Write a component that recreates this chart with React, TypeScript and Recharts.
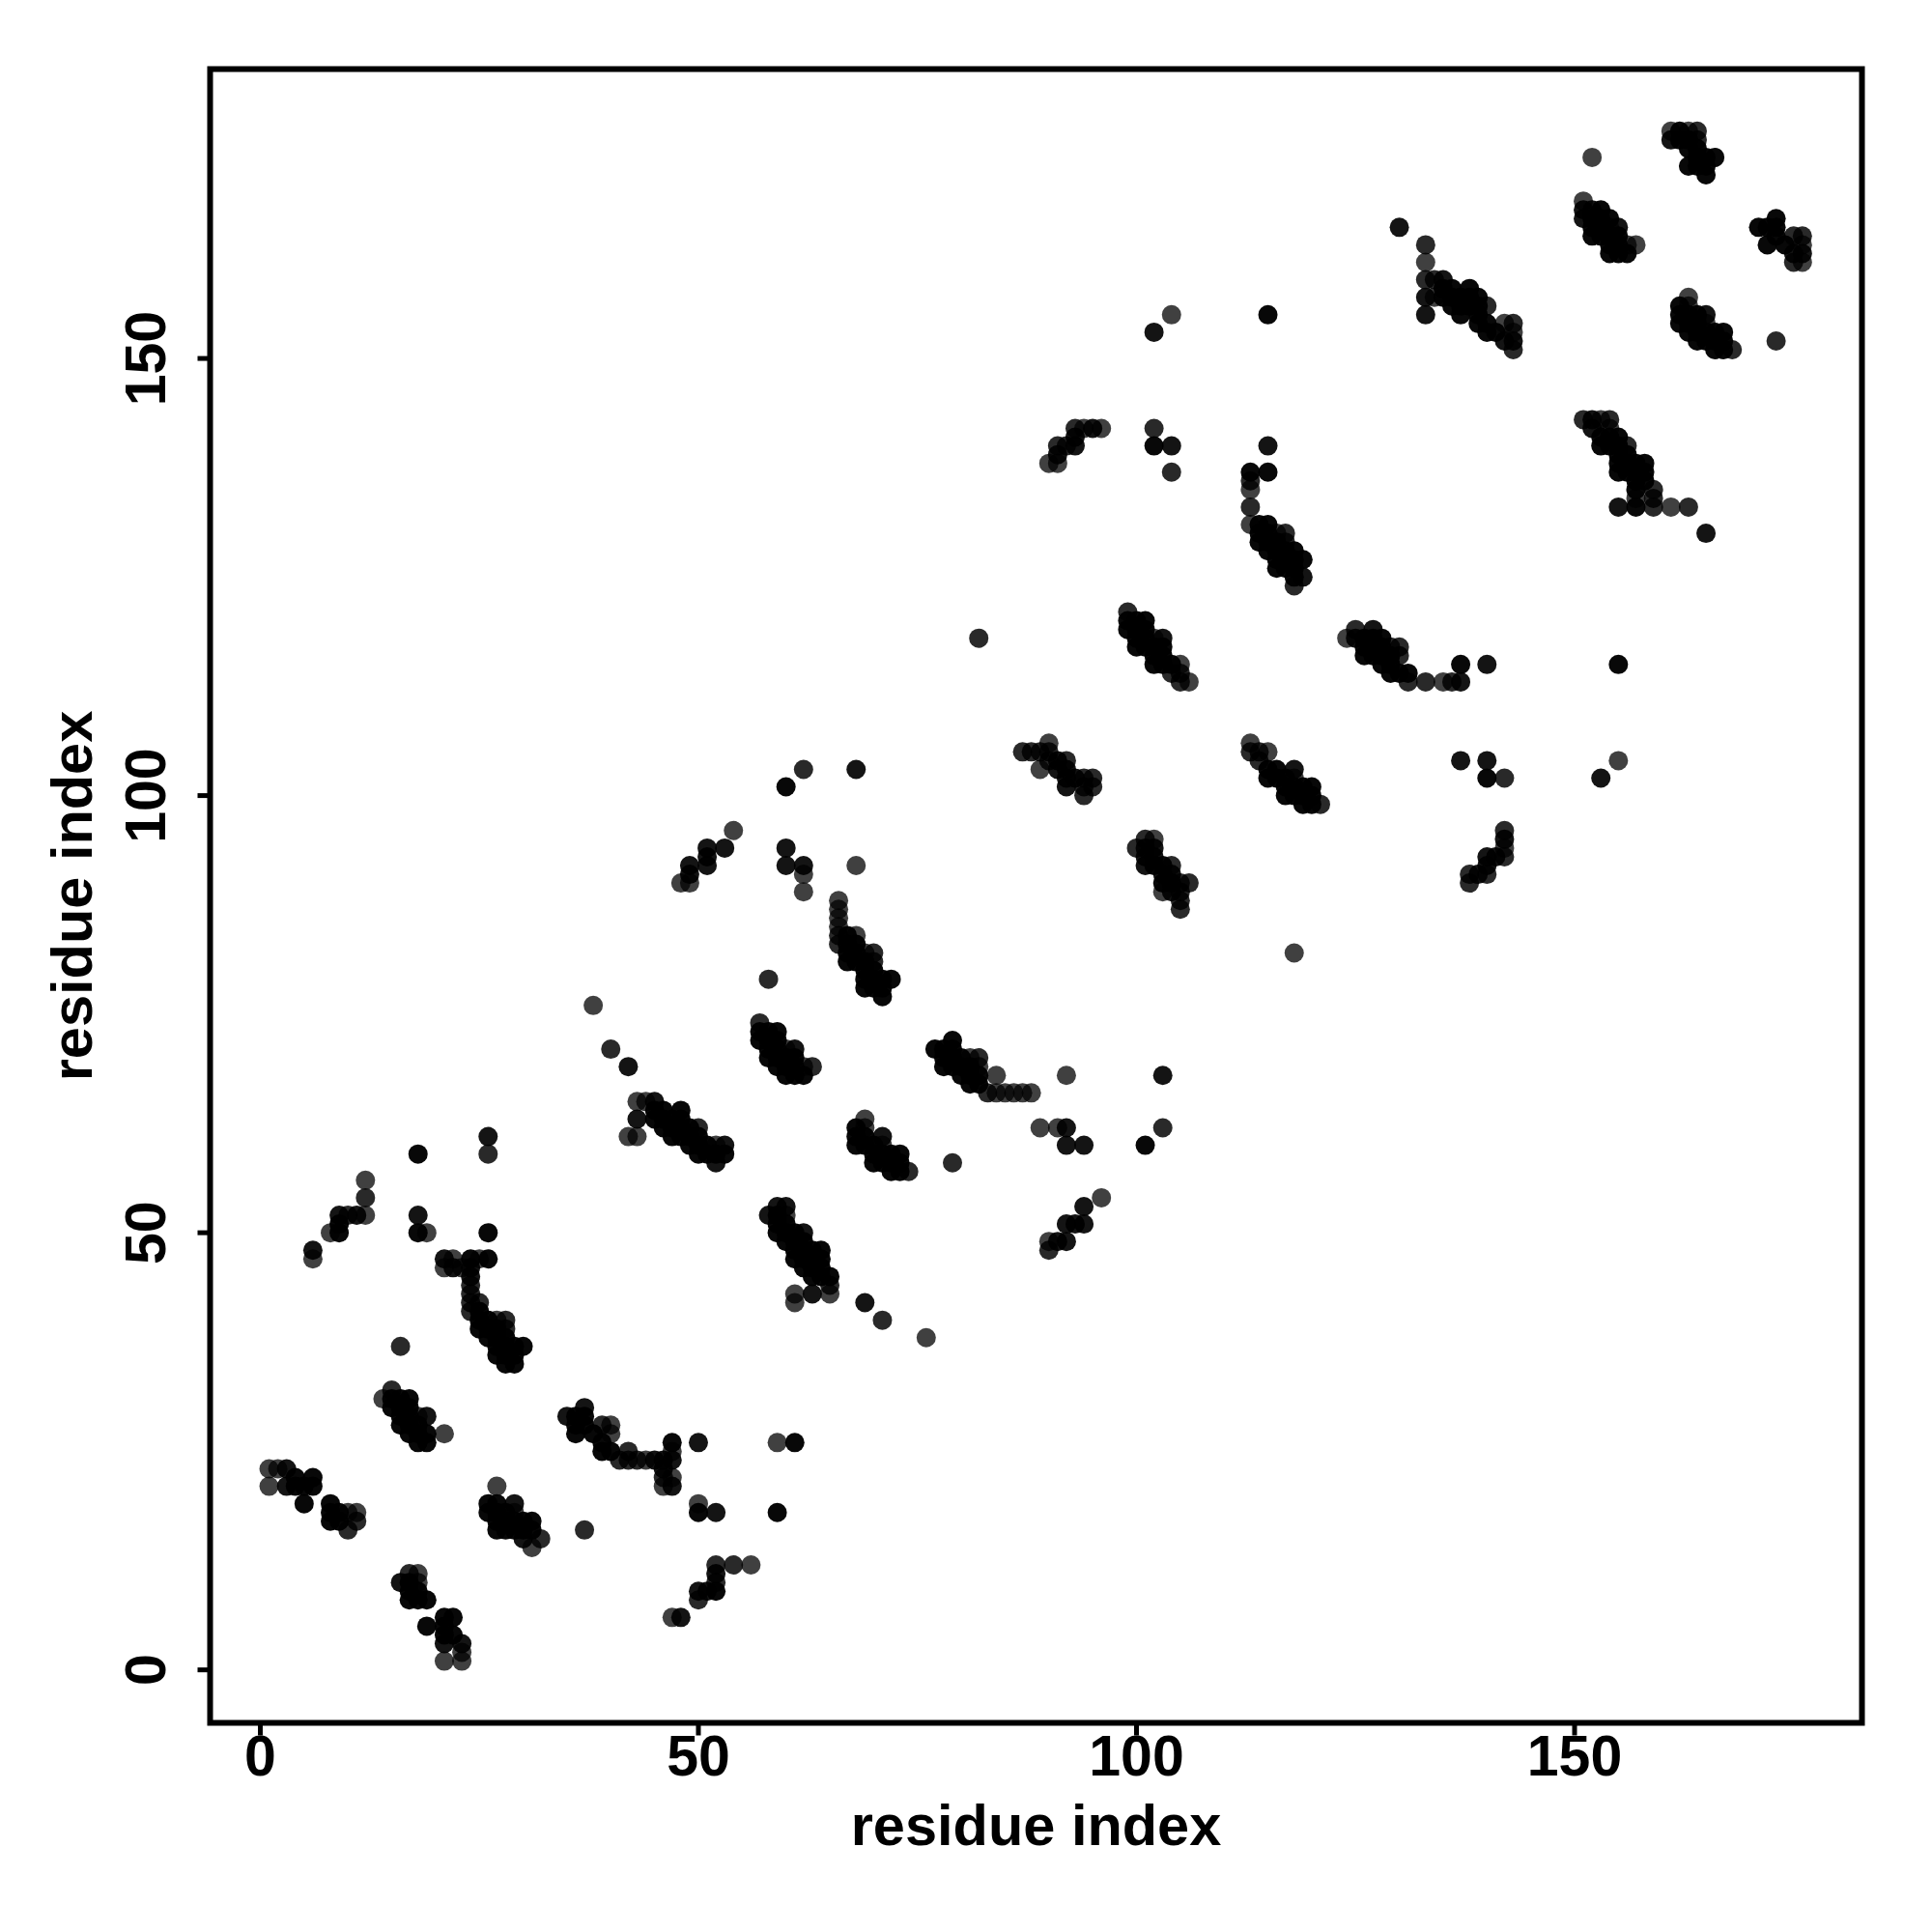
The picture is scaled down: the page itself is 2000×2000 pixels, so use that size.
import { ScatterChart, Scatter, XAxis, YAxis, ReferenceArea } from 'recharts';

// contacts as [residue x, residue y], grouped by how dark the dot is
const faintContacts = [
  [1,23],[1,21],[2,23],[10,18],[11,18],[21,1],[23,1],[23,2],[18,11],[18,10],[14,31],[18,29],[21,27],[27,21],[29,18],[31,14],
  [6,47],[8,50],[12,52],[19,50],[12,56],[21,46],[22,47],[23,46],[25,47],[27,40],[40,28],[40,27],[44,24],[46,21],[47,25],[47,22],
  [59,26],[50,19],[56,12],[47,6],[60,52],[61,43],[61,42],[65,43],[76,38],[38,76],[43,65],[44,65],[42,61],[43,61],[52,60],
  [48,90],[49,90],[54,96],[62,91],[62,89],[68,92],[66,88],[66,87],[66,86],[66,85],[68,84],[69,82],[60,71],[62,69],[69,63],[69,62],[71,60],
  [81,70],[82,69],[84,68],[84,66],[85,66],[86,66],[87,66],[88,66],[92,68],[89,62],[91,62],[96,54],[90,49],[89,103],[90,106],[102,95],[103,89],
  [118,82],[113,106],[115,105],[118,102],[142,94],[155,104],[104,155],[90,138],[91,138],[94,142],[96,142],[113,135],[113,131],[116,130],
  [102,118],[105,115],[106,113],[124,118],[135,113],[133,161],[134,157],[142,154],[143,153],[151,168],[154,165],[156,163],[157,163],[152,173],
  [161,176],[163,176],[176,163],[176,161],[163,157],[163,156],[165,154],[153,143],[154,142],[157,134],[161,133],
];
const midContacts = [
  [11,17],[10,16],[17,11],[15,32],[16,37],[32,15],[37,16],[10,52],[12,54],[26,59],[24,44],[24,43],[24,42],[25,42],[28,40],[28,39],[24,41],
  [39,28],[41,24],[42,25],[42,24],[43,24],[46,22],[52,12],[54,12],[52,10],[50,8],[65,44],[71,40],[40,71],[50,62],[58,79],[62,103],[66,84],[66,83],[70,82],[70,81],
  [57,74],[63,69],[74,57],[79,58],[82,70],[83,66],[103,62],[90,48],[87,105],[88,105],[89,105],[90,105],[90,104],[92,104],[94,100],[94,101],[94,102],[95,102],[95,101],
  [100,94],[101,95],[104,92],[105,90],[106,90],[105,89],[105,88],[105,87],[113,105],[114,105],[114,104],[121,99],[142,102],[142,96],[142,93],[140,91],[138,91],[138,90],
  [82,118],[91,140],[92,140],[93,142],[102,142],[104,137],[113,136],[113,133],[117,130],[117,129],[118,124],[99,121],[105,114],[105,113],[104,114],
  [125,119],[129,117],[130,117],[130,116],[131,113],[133,113],[136,113],[133,163],[133,159],[134,159],[140,156],[143,154],[143,151],
  [164,176],[164,175],[175,164],[176,164],[175,161],[168,151],[173,152],[151,143],[154,143],[156,140],[159,135],[159,134],[159,133],[163,133],
];
const darkContacts = [
  [3,23],[3,21],[23,3],[16,10],[21,3],[19,29],[29,19],[30,15],[6,48],[11,52],[9,52],[18,52],[26,61],[21,47],[22,46],[24,46],[24,45],
  [35,29],[37,30],[45,24],[46,24],[47,24],[46,23],[47,21],[50,26],[52,18],[52,11],[51,9],[50,9],[48,6],[58,52],[59,53],[60,53],[62,50],[63,43],[69,42],
  [42,69],[43,63],[45,65],[53,60],[52,58],[49,92],[49,91],[51,92],[51,93],[51,94],[53,94],[60,94],[60,92],[62,92],[61,71],[71,61],[68,103],
  [103,68],[92,62],[92,60],[94,60],[94,53],[92,51],[93,51],[94,51],[91,49],[92,49],[91,104],[91,103],[92,103],[92,102],[92,101],[93,102],
  [102,94],[101,94],[101,92],[101,93],[102,93],[103,91],[104,91],[104,89],[118,103],[137,104],[140,104],[142,95],[140,93],[141,93],[140,92],[139,91],[153,102],
  [102,153],[91,139],[93,140],[93,141],[95,142],[104,140],[115,140],[119,125],[103,118],[127,119],[125,118],[137,113],[140,115],
  [130,165],[133,155],[133,157],[135,159],[143,152],[142,152],[155,165],[151,167],[152,167],[151,166],[161,175],[175,162],[176,162],[165,155],
  [152,143],[152,142],[155,133],[165,130],
];
const blackContacts = [
  [4,22],[4,21],[5,21],[5,19],[6,22],[6,21],[8,19],[8,18],[8,17],[9,18],[9,17],[22,4],[21,4],[21,5],[21,6],[22,6],[19,5],[19,8],[18,8],[17,8],[17,9],[18,9],[17,10],
  [15,31],[15,30],[16,31],[17,31],[16,30],[16,29],[16,28],[17,29],[17,28],[18,27],[18,26],[19,27],[19,26],[26,19],[27,19],[26,18],[27,18],[28,17],[28,16],[29,16],[30,16],[31,17],[31,16],
  [9,51],[9,50],[18,50],[18,59],[26,50],[24,47],[26,47],[25,41],[25,40],[25,39],[26,39],[27,38],[28,38],[28,37],[29,37],[30,37],[27,36],[28,36],[29,36],[29,35],
  [36,29],[36,28],[36,27],[37,29],[37,28],[38,27],[39,26],[39,25],[40,25],[47,26],[61,26],[50,18],[59,18],[52,9],
  [59,52],[59,51],[59,50],[60,51],[60,50],[61,49],[62,49],[62,48],[61,47],[62,47],[63,48],[64,48],[63,46],[63,45],[64,47],[64,46],[65,45],
  [45,64],[45,63],[46,64],[47,63],[48,64],[48,63],[47,62],[47,61],[48,62],[49,61],[50,61],[50,60],[50,59],[53,59],[60,101],
  [67,84],[67,83],[67,82],[67,81],[69,80],[70,79],[71,79],[72,79],[69,78],[70,78],[71,77],[57,73],[57,72],[58,73],[59,73],[58,72],[58,71],[58,70],[59,71],[60,69],[60,68],[61,68],[62,68],
  [68,62],[68,61],[68,60],[69,61],[70,59],[70,58],[71,59],[73,59],[73,58],[72,57],[73,57],[77,71],[79,72],[78,71],[78,69],[79,71],[79,70],[80,69],[81,68],[81,67],[82,67],
  [101,60],[115,103],[115,102],[116,103],[116,102],[117,101],[117,100],[118,100],[119,99],[119,101],[120,101],[120,100],[120,99],[140,102],[155,115],
  [115,155],[102,140],[115,137],[113,137],[114,131],[114,130],[114,129],[115,130],[116,128],[117,128],[117,127],[118,127],[119,127],[116,126],[117,126],[118,126],[118,125],
  [99,120],[99,119],[100,120],[101,120],[100,119],[100,118],[100,117],[101,118],[102,116],[102,115],[103,116],[103,115],
  [126,118],[127,118],[126,117],[126,116],[127,117],[128,116],[129,115],[129,114],[130,114],[131,114],[137,115],
  [135,158],[135,157],[136,158],[136,157],[137,157],[137,156],[137,155],[138,158],[138,157],[138,156],[139,155],[140,154],[140,153],[141,153],
  [153,167],[152,165],[152,164],[153,166],[153,165],[154,163],[154,162],[155,162],[156,162],[155,163],
  [162,176],[162,175],[163,175],[163,174],[164,174],[164,173],[165,173],[166,173],[163,172],[164,172],[165,172],[165,171],
  [171,165],[172,165],[173,166],[173,165],[172,163],[173,164],[174,163],
  [162,156],[162,155],[162,154],[163,155],[164,153],[164,152],[165,153],[167,153],[167,152],[166,151],[167,151],
  [153,141],[153,140],[154,140],[155,139],[155,137],[156,138],[156,137],[157,138],[158,138],[157,136],[158,136],[157,135],[157,133],
];
// best guesses for dots buried inside the blobs, where only the solid outline can be read
const buriedContacts = [
  [27,17],[27,16],[28,18],[29,17],[30,17],[17,30],[17,27],[18,28],[26,40],[26,38],[27,39],[27,37],[28,35],
  [46,63],[46,62],[48,61],[49,62],[49,60],[51,60],[51,59],[52,59],[60,49],[61,50],[61,48],[63,47],[62,46],[64,45],
  [68,83],[68,82],[68,81],[69,81],[69,79],[70,80],[71,78],[59,72],[59,70],[59,69],[60,70],[61,69],[61,70],
  [69,60],[70,60],[71,58],[72,58],[72,59],[78,70],[80,70],[80,68],[79,69],[81,69],[82,68],
  [102,92],[103,92],[103,90],[104,90],[117,102],[118,101],[119,100],[101,119],[101,117],[102,117],[103,117],[104,115],
  [116,129],[116,127],[118,128],[115,129],[115,131],[115,128],[128,117],[128,115],[128,118],[127,116],[129,116],
  [136,156],[139,156],[139,154],[139,157],[152,166],[154,164],[154,166],[155,164],[153,164],
  [163,154],[164,154],[164,155],[163,153],[165,152],[166,152],[166,153],[154,141],[155,141],[155,140],[155,138],[156,139],[157,137],[158,137],
];

const axisTicks = [0, 50, 100, 150];
const xRange = [-5.73, 182.8];
const yRange = [-6.06, 183.1];
const fontFamily = '"Liberation Sans", Arial, sans-serif';

const tag = (list: number[][], alpha: number) => list.map(([x, y]) => ({ x, y, alpha }));

// R draws in x then y order, so later dots sit on top
const contacts = [
  ...tag(faintContacts, 0.75),
  ...tag(midContacts, 0.84),
  ...tag(darkContacts, 0.92),
  ...tag(blackContacts, 0.97),
  ...tag(buriedContacts, 0.97),
].sort((a, b) => a.x - b.x || a.y - b.y);

const Dot = (props: any) => (
  <circle cx={props.cx} cy={props.cy} r={10} fill="#000" fillOpacity={props.payload.alpha} />
);

const XTick = ({ x, y, payload }: any) => (
  <text x={x} y={y + 41} textAnchor="middle" fontFamily={fontFamily} fontWeight="bold" fontSize={59} fill="#000">
    {payload.value}
  </text>
);

const YTick = ({ x, y, payload }: any) => (
  <text
    transform={`translate(${x - 34},${y}) rotate(-90)`}
    textAnchor="middle"
    fontFamily={fontFamily}
    fontWeight="bold"
    fontSize={59}
    fill="#000"
  >
    {payload.value}
  </text>
);

export default function App() {
  return (
    <div style={{ position: 'absolute', left: 0, top: 0, width: 2000, height: 2000, background: '#fff' }}>
      <ScatterChart width={2000} height={2000} margin={{ top: 71.5, right: 72.5, bottom: 0, left: 0 }}>
        <XAxis
          type="number"
          dataKey="x"
          domain={xRange}
          ticks={axisTicks}
          height={216.5}
          axisLine={false}
          tickLine={{ stroke: '#000', strokeWidth: 5 }}
          tickSize={13}
          tickMargin={0}
          tick={<XTick />}
          label={{
            value: 'residue index',
            position: 'insideBottom',
            offset: 90,
            style: { fontFamily, fontWeight: 'bold', fontSize: 59.5, fill: '#000' },
          }}
        />
        <YAxis
          type="number"
          dataKey="y"
          domain={yRange}
          ticks={axisTicks}
          width={217.5}
          axisLine={false}
          tickLine={{ stroke: '#000', strokeWidth: 5 }}
          tickSize={13}
          tickMargin={0}
          tick={<YTick />}
          label={{
            value: 'residue index',
            angle: -90,
            position: 'insideLeft',
            offset: 74,
            style: { textAnchor: 'middle', fontFamily, fontWeight: 'bold', fontSize: 59.5, fill: '#000' },
          }}
        />
        <ReferenceArea
          x1={xRange[0]}
          x2={xRange[1]}
          y1={yRange[0]}
          y2={yRange[1]}
          fill="none"
          stroke="#000"
          strokeWidth={6}
          ifOverflow="visible"
        />
        <Scatter data={contacts} isAnimationActive={false} shape={<Dot />} />
      </ScatterChart>
    </div>
  );
}
